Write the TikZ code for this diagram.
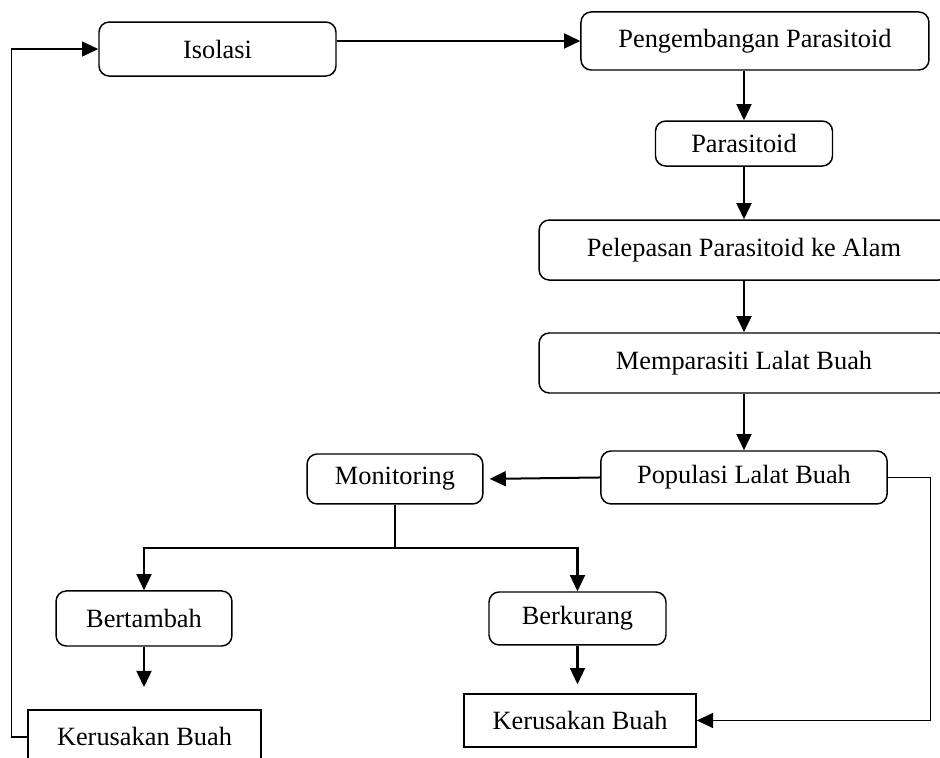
\documentclass[tikz,border=0pt]{standalone}
\usepackage{fontspec}
\setmainfont{Liberation Serif}
\usetikzlibrary{arrows.meta}
\begin{document}
\begin{tikzpicture}[box/.style={draw,rounded corners=0.17cm,line width=0.7pt,minimum width=#1,minimum height=0.9cm,inner sep=0pt},
  box/.default=2.95cm,
  flat/.style={draw,line width=0.7pt,minimum width=3.88cm,minimum height=0.9cm,inner sep=0pt},
  arr/.style={-{Triangle[length=0.27cm,width=0.25cm]},line width=0.95pt},
  back/.style={-{Triangle[length=0.27cm,width=0.25cm]},line width=0.6pt},
  font=\fontsize{12.5}{15}\selectfont]
        \clip (0,0) rectangle (15.667,-12.633);
        \node [box=3.95cm] (isolasi) at (3.625,-0.817) {Isolasi};
        \node [box=5.8cm,minimum height=0.967cm] (kembang) at (12.583,-0.683) {Pengembangan Parasitoid};
        \node [box,minimum height=0.75cm] (parasitoid) at (12.4,-2.392) {Parasitoid};
        \node [box=6.83cm,minimum height=1cm] (lepas) at (12.4,-4.167) {Pelepasan Parasitoid ke Alam};
        \node [box=6.83cm,minimum height=1cm] (parasit) at (12.4,-6.05) {Memparasiti Lalat Buah};
        \node [box=4.77cm,minimum height=0.883cm] (populasi) at (12.4,-7.958) {Populasi Lalat Buah};
        \node [box=2.93cm,minimum height=0.833cm] (monitoring) at (6.583,-7.983) {Monitoring};
        \node [box=2.93cm,minimum height=0.917cm] (tambah) at (2.4,-10.308) {Bertambah};
        \node [box=2.95cm,minimum height=0.883cm] (kurang) at (9.625,-10.308) {Berkurang};
        \node [flat] (rusak1) at (2.408,-12.283) {Kerusakan Buah};
        \node [flat,minimum width=3.87cm,minimum height=0.883cm] (rusak2) at (9.667,-12.008) {Kerusakan Buah};
        \draw [arr] (isolasi.east |- kembang.west) -- (kembang.west);
        \draw [arr] (parasitoid.north |- kembang.south) -- (parasitoid.north);
        \draw [arr] (parasitoid) -- (lepas);
        \draw [arr] (lepas) -- (parasit);
        \draw [arr] (parasit) -- (populasi);
        \draw [arr,shorten >=0.1cm] (populasi.west) -- (monitoring.east);
        \draw [line width=0.6pt] (monitoring.south) -- ++(0,-0.717) coordinate (split);
        \draw [arr] (split) -| (tambah.north);
        \draw [arr] (split) -| (kurang.north);
        \draw [arr,shorten >=0.37cm] (tambah.south) -- (tambah.south |- rusak1.north);
        \draw [arr,shorten >=0.15cm] (kurang.south) -- (kurang.south |- rusak2.north);
        \draw [back] (populasi.east) -- ++(0.717,0) |- (rusak2.east);
        \draw [back] (rusak1.west) -- ++(-0.267,0) |- (isolasi.west);
    \end{tikzpicture}
\end{document}
